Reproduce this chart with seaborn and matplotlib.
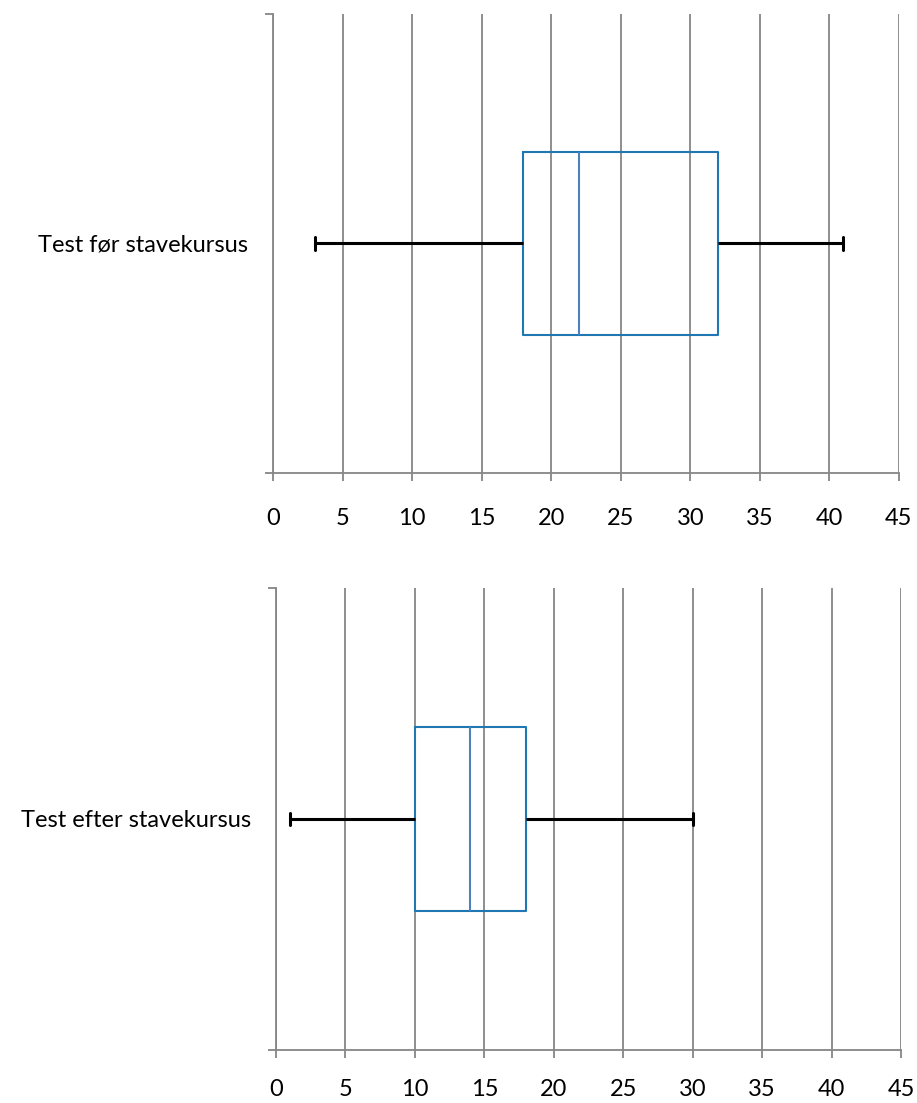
import matplotlib
matplotlib.use("Agg")
import matplotlib.pyplot as plt
import seaborn as sns
import pandas as pd

# five-number summaries (min, Q1, median, Q3, max)
labels = ["Test før stavekursus", "Test efter stavekursus"]
before_vals = [3, 18, 22, 32, 41]
after_vals = [1, 10, 14, 18, 30]
xticks = [0, 5, 10, 15, 20, 25, 30, 35, 40, 45]

sns.set_style("white")
plt.rcParams['font.family'] = ['Lato', 'DejaVu Sans']

box_col = '#4F81BD'
grid_col = '#868686'

fig = plt.figure(figsize=(9.17, 11.03), dpi=100)
ax_top = fig.add_axes([0.2977, 0.5712, 0.6826, 0.4161])
ax_bot = fig.add_axes([0.3010, 0.0481, 0.6816, 0.4188])

for ax, vals, lab, xpad in zip([ax_top, ax_bot], [before_vals, after_vals], labels, [19, 15]):
    df = pd.DataFrame({'value': vals, 'test': [lab] * len(vals)})
    sns.boxplot(data=df, x='value', y='test', ax=ax, fill=False, width=0.4,
                whis=(0, 100), linecolor=box_col, linewidth=1.5,
                whiskerprops=dict(color='black', linewidth=2.2),
                capprops=dict(color='black', linewidth=2.2),
                medianprops=dict(color=box_col, linewidth=1.5),
                capwidths=0.028, zorder=3)
    ax.set_xlim(0, 45)
    ax.set_ylim(0.5, -0.5)
    ax.set_xticks(xticks)
    ax.set_xticklabels([str(t) for t in xticks])
    ax.grid(axis='x', color=grid_col, linewidth=1.3, zorder=0)
    ax.set_axisbelow(True)
    ax.set_xlabel('')
    ax.set_ylabel('')
    for s in ['top', 'right']:
        ax.spines[s].set_visible(False)
    for s in ['left', 'bottom']:
        ax.spines[s].set_color(grid_col)
        ax.spines[s].set_linewidth(1.3)
    ax.tick_params(axis='x', length=6, width=1.3, color=grid_col, pad=xpad,
                   labelsize=17, labelcolor='black', direction='out', bottom=True)
    ax.set_yticks([0])
    ax.set_yticklabels([lab])
    ax.set_yticks([-0.5, 0.5], minor=True)
    ax.tick_params(axis='y', which='major', length=0, pad=18, labelsize=17,
                   labelcolor='black')
    ax.tick_params(axis='y', which='minor', length=6, width=1.3, color=grid_col,
                   direction='out', left=True)

fig.savefig('out.png', dpi=100)
